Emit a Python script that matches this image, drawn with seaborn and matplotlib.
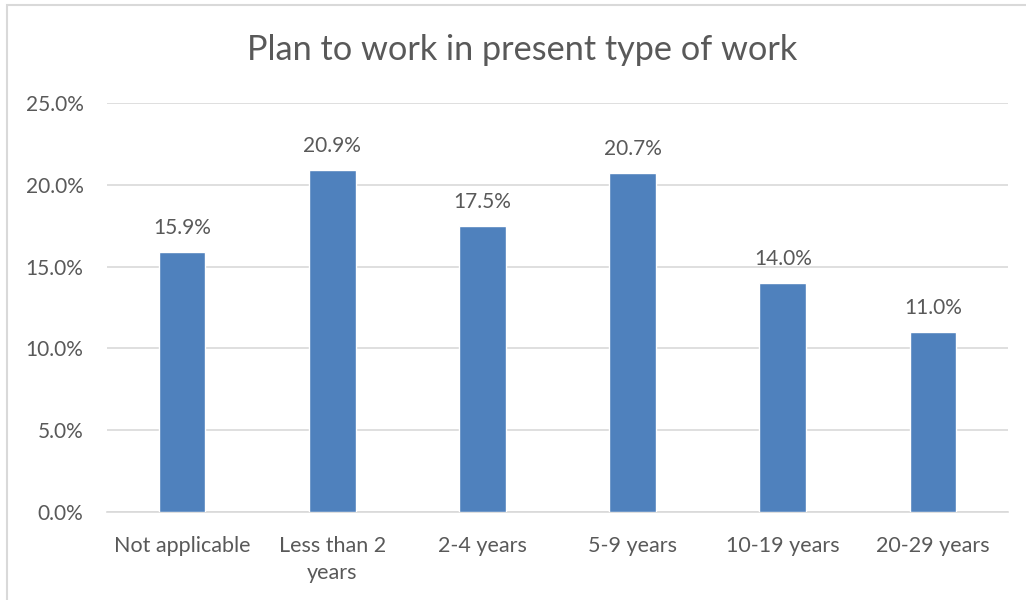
import matplotlib
matplotlib.use("Agg")
import matplotlib.pyplot as plt
import matplotlib.patches as mpatches
import seaborn as sns
import pandas as pd
from matplotlib.ticker import PercentFormatter

categories = ["Not applicable", "Less than 2\nyears", "2-4 years", "5-9 years",
              "10-19 years", "20-29 years"]
shares = [15.9, 20.9, 17.5, 20.7, 14.0, 11.0]
y_ticks = [0, 5, 10, 15, 20, 25]

sns.set_theme(style="white")
plt.rcParams["font.family"] = ["Lato", "DejaVu Sans"]

TEXT = "#595959"
GRID = "#D9D9D9"
BAR = "#4F81BD"

df = pd.DataFrame({"category": categories, "share": [v / 100 for v in shares]})

fig = plt.figure(figsize=(10.26, 6.0), dpi=100)
ax = fig.add_axes([107 / 1026, 1 - 512 / 600, 901 / 1026, 409 / 600])

sns.barplot(data=df, x="category", y="share", color=BAR, width=0.31,
            saturation=1, ax=ax, zorder=3)

ax.set_xlim(-0.5, len(categories) - 0.5)
ax.set_ylim(0, 0.25)
ax.set_yticks([t / 100 for t in y_ticks])
ax.yaxis.set_major_formatter(PercentFormatter(1.0, decimals=1))
ax.grid(axis="y", color=GRID, linewidth=1.2, zorder=0)
ax.grid(axis="x", visible=False)
for side in ["top", "right", "left"]:
    ax.spines[side].set_visible(False)
ax.spines["bottom"].set_color(GRID)
ax.spines["bottom"].set_linewidth(1.2)
ax.tick_params(axis="both", length=0, labelsize=15, labelcolor=TEXT)
ax.tick_params(axis="x", labelsize=15.5, pad=17)
ax.tick_params(axis="y", pad=17)
for lbl in ax.get_xticklabels():
    lbl.set_linespacing(1.45)
ax.set_xlabel("")
ax.set_ylabel("")

for i, v in enumerate(shares):
    ax.annotate(f"{v:.1f}%", (i, v / 100), xytext=(0, 10),
                textcoords="offset points", ha="center", va="bottom",
                fontsize=15, color=TEXT)

fig.text(522 / 1026, 1 - 50 / 600, "Plan to work in present type of work",
         ha="center", va="center", fontsize=24.7, color=TEXT)

# chart frame
fig.patches.append(mpatches.Rectangle((7 / 1026, -0.1), 1.2, 1 - 5 / 600 + 0.1,
                                      transform=fig.transFigure, fill=False,
                                      edgecolor=GRID, linewidth=1.5))

fig.savefig("out.png", dpi=100)
